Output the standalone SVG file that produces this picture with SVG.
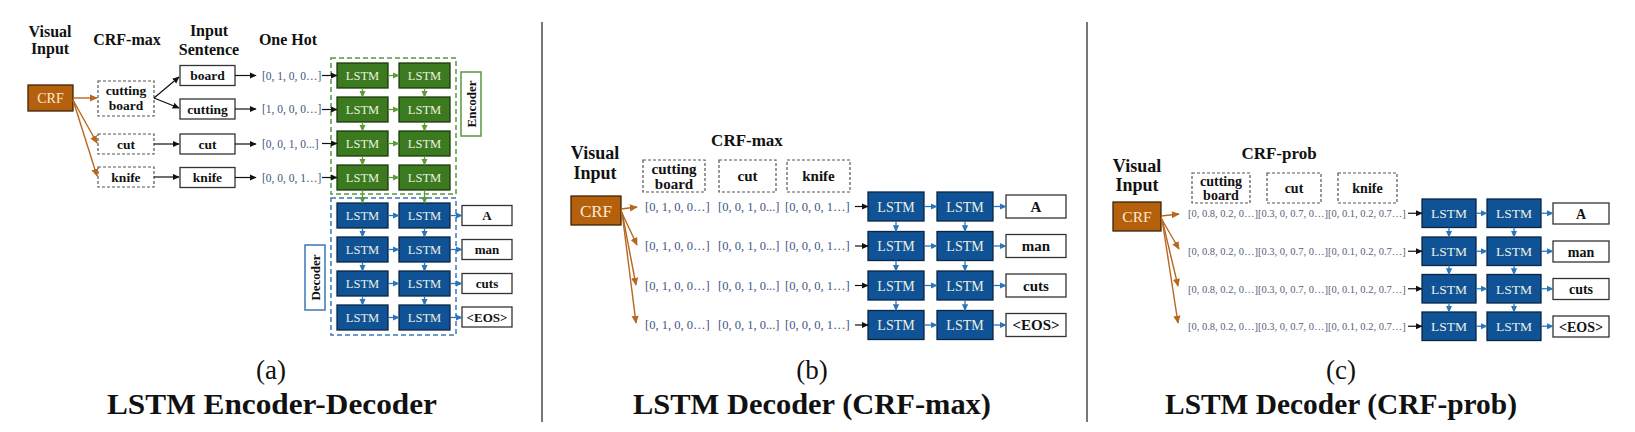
<svg xmlns="http://www.w3.org/2000/svg" width="1635" height="432" viewBox="0 0 1635 432">
<style>
.crf{fill:#b5600c;stroke:#3d2408;stroke-width:1.3}
.crft{font-family:"Liberation Serif","Times New Roman",serif;fill:#fcebd2;text-anchor:middle}
.dash{fill:#fff;stroke:#555;stroke-width:1.2;stroke-dasharray:3 2}
.box{fill:#fff;stroke:#333;stroke-width:1.3}
.lbl{font-family:"Liberation Serif","Times New Roman",serif;font-weight:bold;fill:#111;text-anchor:middle}
.lg{fill:#3b7a1f;stroke:#1c3a0d;stroke-width:1.3}
.lb{fill:#0f5396;stroke:#0a2645;stroke-width:1.3}
.lt{font-family:"Liberation Serif","Times New Roman",serif;fill:#eef0e2;text-anchor:middle}
.vec{font-family:"Liberation Serif","Times New Roman",serif;fill:#3f5683}
.vecc{font-family:"Liberation Serif","Times New Roman",serif;fill:#56607a}
.hd{font-family:"Liberation Serif","Times New Roman",serif;font-weight:bold;fill:#111;text-anchor:middle}
.cap{font-family:"Liberation Serif","Times New Roman",serif;fill:#111;text-anchor:middle}
.gdash{fill:none;stroke:#5a9640;stroke-width:1.5;stroke-dasharray:5 3}
.bdash{fill:none;stroke:#3b7ab8;stroke-width:1.5;stroke-dasharray:5 3}
.gtag{fill:#fff;stroke:#5a9640;stroke-width:1.5}
.btag{fill:#fff;stroke:#3b7ab8;stroke-width:1.5}
.ck{stroke:#111;stroke-width:1.2;fill:none;marker-end:url(#mk)}
.co{stroke:#b8671f;stroke-width:1.4;fill:none;marker-end:url(#mo)}
.cg{stroke:#5a9e35;stroke-width:1.3;fill:none;marker-end:url(#mg)}
.cb{stroke:#2b76bb;stroke-width:1.3;fill:none;marker-end:url(#mb)}
.div{stroke:#555;stroke-width:1.6}
</style>
<defs>
<marker id="mk" viewBox="0 0 10 10" refX="9" refY="5" markerWidth="7" markerHeight="7" markerUnits="userSpaceOnUse" orient="auto"><path d="M0,0.5 L10,5 L0,9.5 z" fill="#111"/></marker>
<marker id="mo" viewBox="0 0 10 10" refX="9" refY="5" markerWidth="8" markerHeight="8" markerUnits="userSpaceOnUse" orient="auto"><path d="M0,0.5 L10,5 L0,9.5 z" fill="#b8671f"/></marker>
<marker id="mg" viewBox="0 0 10 10" refX="9" refY="5" markerWidth="7" markerHeight="7" markerUnits="userSpaceOnUse" orient="auto"><path d="M0,0.5 L10,5 L0,9.5 z" fill="#5a9e35"/></marker>
<marker id="mb" viewBox="0 0 10 10" refX="9" refY="5" markerWidth="7" markerHeight="7" markerUnits="userSpaceOnUse" orient="auto"><path d="M0,0.5 L10,5 L0,9.5 z" fill="#2b76bb"/></marker>
</defs>
<rect width="1635" height="432" fill="#fff"/>

<!-- dividers -->
<line class="div" x1="542" y1="22" x2="542" y2="422"/>
<line class="div" x1="1087" y1="22" x2="1087" y2="422"/>

<!-- ===== Panel A ===== -->
<g id="a-headers">
<text class="hd" font-size="16" x="50" y="37">Visual</text>
<text class="hd" font-size="16" x="50" y="54">Input</text>
<text class="hd" font-size="16" x="127" y="45">CRF-max</text>
<text class="hd" font-size="16" x="209" y="36">Input</text>
<text class="hd" font-size="16" x="209" y="55">Sentence</text>
<text class="hd" font-size="16" x="288" y="45">One Hot</text>
</g>
<g id="a-crf"><rect class="crf" x="28" y="85" width="45" height="26"/><text class="crft" font-size="14" x="50.5" y="103">CRF</text></g>
<g id="a-crfmax-cuttingboard"><rect class="dash" x="98" y="81" width="56" height="35"/><text class="lbl" font-size="13.5" x="126" y="95">cutting</text><text class="lbl" font-size="13.5" x="126" y="110">board</text></g>
<g id="a-crfmax-cut"><rect class="dash" x="98" y="134" width="56" height="20"/><text class="lbl" font-size="13.5" x="126" y="148.5">cut</text></g>
<g id="a-crfmax-knife"><rect class="dash" x="98" y="167" width="56" height="20"/><text class="lbl" font-size="13.5" x="126" y="181.5">knife</text></g>
<g id="a-in-board"><rect class="box" x="180" y="65.5" width="55" height="20"/><text class="lbl" font-size="13.5" x="207.5" y="80">board</text></g>
<g id="a-in-cutting"><rect class="box" x="180" y="99" width="55" height="20"/><text class="lbl" font-size="13.5" x="207.5" y="113.5">cutting</text></g>
<g id="a-in-cut"><rect class="box" x="180" y="134" width="55" height="20"/><text class="lbl" font-size="13.5" x="207.5" y="148.5">cut</text></g>
<g id="a-in-knife"><rect class="box" x="180" y="167.5" width="55" height="20"/><text class="lbl" font-size="13.5" x="207.5" y="182">knife</text></g>
<g id="a-onehot">
<text class="vec" font-size="11.5" x="262" y="79.5">[0, 1, 0, 0…]</text>
<text class="vec" font-size="11.5" x="262" y="113">[1, 0, 0, 0…]</text>
<text class="vec" font-size="11.5" x="262" y="148">[0, 0, 1, 0...]</text>
<text class="vec" font-size="11.5" x="262" y="181.5">[0, 0, 0, 1…]</text>
</g>
<g id="a-encoder">
<rect class="gdash" x="331" y="58" width="125" height="136"/>
<rect class="lg" x="337" y="63" width="51" height="25"/><text class="lt" font-size="12.5" x="362.5" y="80">LSTM</text>
<rect class="lg" x="399" y="63" width="51" height="25"/><text class="lt" font-size="12.5" x="424.5" y="80">LSTM</text>
<rect class="lg" x="337" y="97" width="51" height="25"/><text class="lt" font-size="12.5" x="362.5" y="114">LSTM</text>
<rect class="lg" x="399" y="97" width="51" height="25"/><text class="lt" font-size="12.5" x="424.5" y="114">LSTM</text>
<rect class="lg" x="337" y="131" width="51" height="25"/><text class="lt" font-size="12.5" x="362.5" y="148">LSTM</text>
<rect class="lg" x="399" y="131" width="51" height="25"/><text class="lt" font-size="12.5" x="424.5" y="148">LSTM</text>
<rect class="lg" x="337" y="165" width="51" height="25"/><text class="lt" font-size="12.5" x="362.5" y="182">LSTM</text>
<rect class="lg" x="399" y="165" width="51" height="25"/><text class="lt" font-size="12.5" x="424.5" y="182">LSTM</text>
</g>
<g id="a-encoder-tag"><rect class="gtag" x="461" y="72" width="20" height="64"/><text class="lbl" font-size="13" transform="translate(475.5 104) rotate(-90)">Encoder</text></g>
<g id="a-decoder">
<rect class="bdash" x="331" y="198" width="125" height="137"/>
<rect class="lb" x="337" y="203" width="51" height="25"/><text class="lt" font-size="12.5" x="362.5" y="220">LSTM</text>
<rect class="lb" x="399" y="203" width="51" height="25"/><text class="lt" font-size="12.5" x="424.5" y="220">LSTM</text>
<rect class="lb" x="337" y="237" width="51" height="25"/><text class="lt" font-size="12.5" x="362.5" y="254">LSTM</text>
<rect class="lb" x="399" y="237" width="51" height="25"/><text class="lt" font-size="12.5" x="424.5" y="254">LSTM</text>
<rect class="lb" x="337" y="271" width="51" height="25"/><text class="lt" font-size="12.5" x="362.5" y="288">LSTM</text>
<rect class="lb" x="399" y="271" width="51" height="25"/><text class="lt" font-size="12.5" x="424.5" y="288">LSTM</text>
<rect class="lb" x="337" y="305" width="51" height="25"/><text class="lt" font-size="12.5" x="362.5" y="322">LSTM</text>
<rect class="lb" x="399" y="305" width="51" height="25"/><text class="lt" font-size="12.5" x="424.5" y="322">LSTM</text>
</g>
<g id="a-decoder-tag"><rect class="btag" x="305" y="245" width="20" height="65"/><text class="lbl" font-size="13" transform="translate(319.5 277.5) rotate(-90)">Decoder</text></g>
<g id="a-out-A"><rect class="box" x="462" y="205.5" width="50" height="20"/><text class="lbl" font-size="13" x="487" y="220">A</text></g>
<g id="a-out-man"><rect class="box" x="462" y="239.5" width="50" height="20"/><text class="lbl" font-size="13" x="487" y="254">man</text></g>
<g id="a-out-cuts"><rect class="box" x="462" y="273.5" width="50" height="20"/><text class="lbl" font-size="13" x="487" y="288">cuts</text></g>
<g id="a-out-eos"><rect class="box" x="462" y="307" width="50" height="20"/><text class="lbl" font-size="13" x="487" y="321.5">&lt;EOS&gt;</text></g>
<g id="a-caption">
<text class="cap" font-size="27" x="271" y="379">(a)</text>
<text class="cap" font-size="30" font-weight="bold" x="272" y="414" textLength="330" lengthAdjust="spacingAndGlyphs">LSTM Encoder-Decoder</text>
</g>

<!-- ===== Panel B ===== -->
<g id="b-headers">
<text class="hd" font-size="18" x="595" y="159">Visual</text>
<text class="hd" font-size="18" x="595" y="179">Input</text>
<text class="hd" font-size="17" x="747" y="146">CRF-max</text>
</g>
<g id="b-crf"><rect class="crf" x="571" y="196" width="50" height="29"/><text class="crft" font-size="17" x="596" y="216.5">CRF</text></g>
<g id="b-crfmax-cuttingboard"><rect class="dash" x="643" y="160" width="62" height="32"/><text class="lbl" font-size="15" x="674" y="174">cutting</text><text class="lbl" font-size="15" x="674" y="189">board</text></g>
<g id="b-crfmax-cut"><rect class="dash" x="719" y="160" width="57" height="32"/><text class="lbl" font-size="15" x="747.5" y="181">cut</text></g>
<g id="b-crfmax-knife"><rect class="dash" x="787" y="160" width="63" height="32"/><text class="lbl" font-size="15" x="818.5" y="181">knife</text></g>
<g id="b-onehot">
<text class="vec" font-size="12.5" x="645" y="210.5">[0, 1, 0, 0…]</text>
<text class="vec" font-size="12.5" x="718" y="210.5">[0, 0, 1, 0...]</text>
<text class="vec" font-size="12.5" x="785" y="210.5">[0, 0, 0, 1…]</text>
<text class="vec" font-size="12.5" x="645" y="250">[0, 1, 0, 0…]</text>
<text class="vec" font-size="12.5" x="718" y="250">[0, 0, 1, 0...]</text>
<text class="vec" font-size="12.5" x="785" y="250">[0, 0, 0, 1…]</text>
<text class="vec" font-size="12.5" x="645" y="289.5">[0, 1, 0, 0…]</text>
<text class="vec" font-size="12.5" x="718" y="289.5">[0, 0, 1, 0...]</text>
<text class="vec" font-size="12.5" x="785" y="289.5">[0, 0, 0, 1…]</text>
<text class="vec" font-size="12.5" x="645" y="329">[0, 1, 0, 0…]</text>
<text class="vec" font-size="12.5" x="718" y="329">[0, 0, 1, 0...]</text>
<text class="vec" font-size="12.5" x="785" y="329">[0, 0, 0, 1…]</text>
</g>
<g id="b-decoder">
<rect class="lb" x="868" y="192" width="56" height="29"/><text class="lt" font-size="14" x="896" y="211.5">LSTM</text>
<rect class="lb" x="937" y="192" width="56" height="29"/><text class="lt" font-size="14" x="965" y="211.5">LSTM</text>
<rect class="lb" x="868" y="231.5" width="56" height="29"/><text class="lt" font-size="14" x="896" y="251">LSTM</text>
<rect class="lb" x="937" y="231.5" width="56" height="29"/><text class="lt" font-size="14" x="965" y="251">LSTM</text>
<rect class="lb" x="868" y="271" width="56" height="29"/><text class="lt" font-size="14" x="896" y="290.5">LSTM</text>
<rect class="lb" x="937" y="271" width="56" height="29"/><text class="lt" font-size="14" x="965" y="290.5">LSTM</text>
<rect class="lb" x="868" y="310.5" width="56" height="29"/><text class="lt" font-size="14" x="896" y="330">LSTM</text>
<rect class="lb" x="937" y="310.5" width="56" height="29"/><text class="lt" font-size="14" x="965" y="330">LSTM</text>
</g>
<g id="b-out-A"><rect class="box" x="1006" y="195" width="60" height="23"/><text class="lbl" font-size="15" x="1036" y="211.5">A</text></g>
<g id="b-out-man"><rect class="box" x="1006" y="234.5" width="60" height="23"/><text class="lbl" font-size="15" x="1036" y="251">man</text></g>
<g id="b-out-cuts"><rect class="box" x="1006" y="274" width="60" height="23"/><text class="lbl" font-size="15" x="1036" y="290.5">cuts</text></g>
<g id="b-out-eos"><rect class="box" x="1006" y="313.5" width="60" height="23"/><text class="lbl" font-size="15" x="1036" y="330">&lt;EOS&gt;</text></g>
<g id="b-caption">
<text class="cap" font-size="27" x="812" y="379">(b)</text>
<text class="cap" font-size="30" font-weight="bold" x="812" y="414" textLength="358" lengthAdjust="spacingAndGlyphs">LSTM Decoder (CRF-max)</text>
</g>

<!-- ===== Panel C ===== -->
<g id="c-headers">
<text class="hd" font-size="18" x="1137" y="172">Visual</text>
<text class="hd" font-size="18" x="1137" y="191">Input</text>
<text class="hd" font-size="17" x="1279" y="159">CRF-prob</text>
</g>
<g id="c-crf"><rect class="crf" x="1113" y="202" width="48" height="29"/><text class="crft" font-size="15.5" x="1137" y="222">CRF</text></g>
<g id="c-crfprob-cuttingboard"><rect class="dash" x="1192" y="173" width="58" height="30"/><text class="lbl" font-size="14" x="1221" y="186">cutting</text><text class="lbl" font-size="14" x="1221" y="200">board</text></g>
<g id="c-crfprob-cut"><rect class="dash" x="1267" y="173" width="54" height="30"/><text class="lbl" font-size="14" x="1294" y="193">cut</text></g>
<g id="c-crfprob-knife"><rect class="dash" x="1338" y="173" width="59" height="30"/><text class="lbl" font-size="14" x="1367.5" y="193">knife</text></g>
<g id="c-prob">
<text class="vecc" font-size="10.5" x="1188" y="217">[0, 0.8, 0.2, 0…][0.3, 0, 0.7, 0…][0, 0.1, 0.2, 0.7…]</text>
<text class="vecc" font-size="10.5" x="1188" y="255">[0, 0.8, 0.2, 0…][0.3, 0, 0.7, 0…][0, 0.1, 0.2, 0.7…]</text>
<text class="vecc" font-size="10.5" x="1188" y="292.5">[0, 0.8, 0.2, 0…][0.3, 0, 0.7, 0…][0, 0.1, 0.2, 0.7…]</text>
<text class="vecc" font-size="10.5" x="1188" y="330">[0, 0.8, 0.2, 0…][0.3, 0, 0.7, 0…][0, 0.1, 0.2, 0.7…]</text>
</g>
<g id="c-decoder">
<rect class="lb" x="1422" y="199" width="54" height="28.5"/><text class="lt" font-size="13.5" x="1449" y="218">LSTM</text>
<rect class="lb" x="1487" y="199" width="54" height="28.5"/><text class="lt" font-size="13.5" x="1514" y="218">LSTM</text>
<rect class="lb" x="1422" y="237" width="54" height="28.5"/><text class="lt" font-size="13.5" x="1449" y="256">LSTM</text>
<rect class="lb" x="1487" y="237" width="54" height="28.5"/><text class="lt" font-size="13.5" x="1514" y="256">LSTM</text>
<rect class="lb" x="1422" y="274.5" width="54" height="28.5"/><text class="lt" font-size="13.5" x="1449" y="293.5">LSTM</text>
<rect class="lb" x="1487" y="274.5" width="54" height="28.5"/><text class="lt" font-size="13.5" x="1514" y="293.5">LSTM</text>
<rect class="lb" x="1422" y="312" width="54" height="28.5"/><text class="lt" font-size="13.5" x="1449" y="331">LSTM</text>
<rect class="lb" x="1487" y="312" width="54" height="28.5"/><text class="lt" font-size="13.5" x="1514" y="331">LSTM</text>
</g>
<g id="c-out-A"><rect class="box" x="1553" y="203" width="56" height="21"/><text class="lbl" font-size="14" x="1581" y="218.5">A</text></g>
<g id="c-out-man"><rect class="box" x="1553" y="241" width="56" height="21"/><text class="lbl" font-size="14" x="1581" y="256.5">man</text></g>
<g id="c-out-cuts"><rect class="box" x="1553" y="278.5" width="56" height="21"/><text class="lbl" font-size="14" x="1581" y="294">cuts</text></g>
<g id="c-out-eos"><rect class="box" x="1553" y="316" width="56" height="21"/><text class="lbl" font-size="14" x="1581" y="331.5">&lt;EOS&gt;</text></g>
<g id="c-caption">
<text class="cap" font-size="27" x="1341" y="379">(c)</text>
<text class="cap" font-size="30" font-weight="bold" x="1341" y="414" textLength="352" lengthAdjust="spacingAndGlyphs">LSTM Decoder (CRF-prob)</text>
</g>

<!-- ===== Connectors ===== -->
<g id="connectors">
<!-- panel a -->
<path class="co" d="M73,98 L97,98"/>
<path class="co" d="M73,100 L97,143"/>
<path class="co" d="M73,100 L97,176"/>
<path class="ck" d="M154,98 L179,77"/>
<path class="ck" d="M154,98 L179,108"/>
<path class="ck" d="M154,144 L179,144"/>
<path class="ck" d="M154,177 L179,177"/>
<path class="ck" d="M235,75.5 L256,75.5"/>
<path class="ck" d="M235,109 L256,109"/>
<path class="ck" d="M235,144 L256,144"/>
<path class="ck" d="M235,177.5 L256,177.5"/>
<path class="ck" d="M322,75.5 L337,75.5"/>
<path class="ck" d="M322,109.5 L337,109.5"/>
<path class="ck" d="M322,143.5 L337,143.5"/>
<path class="ck" d="M322,177.5 L337,177.5"/>
<path class="cg" d="M388,75.5 L399,75.5"/>
<path class="cg" d="M388,109.5 L399,109.5"/>
<path class="cg" d="M388,143.5 L399,143.5"/>
<path class="cg" d="M388,177.5 L399,177.5"/>
<path class="cg" d="M362.5,88 L362.5,97"/>
<path class="cg" d="M424.5,88 L424.5,97"/>
<path class="cg" d="M362.5,122 L362.5,131"/>
<path class="cg" d="M424.5,122 L424.5,131"/>
<path class="cg" d="M362.5,156 L362.5,165"/>
<path class="cg" d="M424.5,156 L424.5,165"/>
<path class="cg" d="M362.5,190 L362.5,203"/>
<path class="cg" d="M424.5,190 L424.5,203"/>
<path class="cb" d="M388,215.5 L399,215.5"/>
<path class="cb" d="M388,249.5 L399,249.5"/>
<path class="cb" d="M388,283.5 L399,283.5"/>
<path class="cb" d="M388,317.5 L399,317.5"/>
<path class="cb" d="M362.5,228 L362.5,237"/>
<path class="cb" d="M424.5,228 L424.5,237"/>
<path class="cb" d="M362.5,262 L362.5,271"/>
<path class="cb" d="M424.5,262 L424.5,271"/>
<path class="cb" d="M362.5,296 L362.5,305"/>
<path class="cb" d="M424.5,296 L424.5,305"/>
<path class="cb" d="M450,215.5 L462,215.5"/>
<path class="cb" d="M450,249.5 L462,249.5"/>
<path class="cb" d="M450,283.5 L462,283.5"/>
<path class="cb" d="M450,317.5 L462,317.5"/>
<!-- panel b -->
<path class="co" d="M621,209 L637,207"/>
<path class="co" d="M621,211 L637,245"/>
<path class="co" d="M622,212 L636,285"/>
<path class="co" d="M622,212 L636,323"/>
<path class="ck" d="M855,206.5 L868,206.5"/>
<path class="ck" d="M855,246 L868,246"/>
<path class="ck" d="M855,285.5 L868,285.5"/>
<path class="ck" d="M855,325 L868,325"/>
<path class="cb" d="M924,206.5 L937,206.5"/>
<path class="cb" d="M924,246 L937,246"/>
<path class="cb" d="M924,285.5 L937,285.5"/>
<path class="cb" d="M924,325 L937,325"/>
<path class="cb" d="M896,221 L896,231.5"/>
<path class="cb" d="M965,221 L965,231.5"/>
<path class="cb" d="M896,260.5 L896,271"/>
<path class="cb" d="M965,260.5 L965,271"/>
<path class="cb" d="M896,300 L896,310.5"/>
<path class="cb" d="M965,300 L965,310.5"/>
<path class="cb" d="M993,206.5 L1006,206.5"/>
<path class="cb" d="M993,246 L1006,246"/>
<path class="cb" d="M993,285.5 L1006,285.5"/>
<path class="cb" d="M993,325 L1006,325"/>
<!-- panel c -->
<path class="co" d="M1161,216 L1179,214"/>
<path class="co" d="M1161,218 L1179,249"/>
<path class="co" d="M1162,219 L1178,286"/>
<path class="co" d="M1162,219 L1178,323"/>
<path class="ck" d="M1408,213.25 L1422,213.25"/>
<path class="ck" d="M1408,251.25 L1422,251.25"/>
<path class="ck" d="M1408,288.75 L1422,288.75"/>
<path class="ck" d="M1408,326.25 L1422,326.25"/>
<path class="cb" d="M1476,213.25 L1487,213.25"/>
<path class="cb" d="M1476,251.25 L1487,251.25"/>
<path class="cb" d="M1476,288.75 L1487,288.75"/>
<path class="cb" d="M1476,326.25 L1487,326.25"/>
<path class="cb" d="M1449,227.5 L1449,237"/>
<path class="cb" d="M1514,227.5 L1514,237"/>
<path class="cb" d="M1449,265.5 L1449,274.5"/>
<path class="cb" d="M1514,265.5 L1514,274.5"/>
<path class="cb" d="M1449,303 L1449,312"/>
<path class="cb" d="M1514,303 L1514,312"/>
<path class="cb" d="M1541,213.25 L1553,213.25"/>
<path class="cb" d="M1541,251.25 L1553,251.25"/>
<path class="cb" d="M1541,288.75 L1553,288.75"/>
<path class="cb" d="M1541,326.25 L1553,326.25"/>
</g>
</svg>
